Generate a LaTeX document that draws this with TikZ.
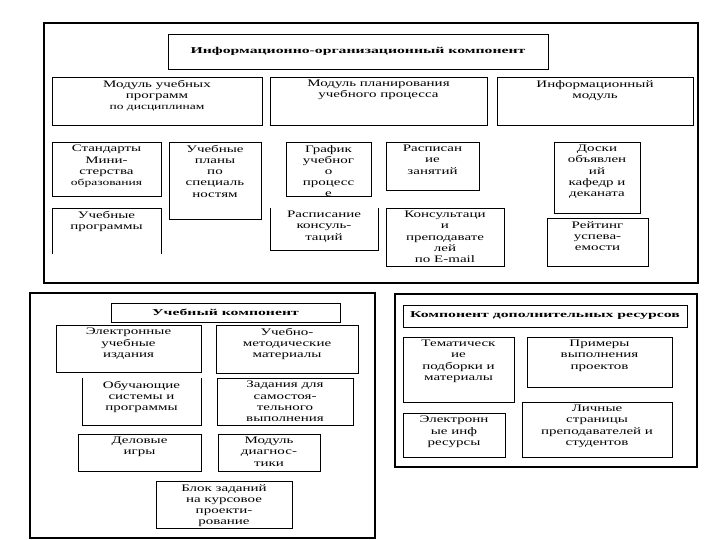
\documentclass[tikz,border=0pt]{standalone}
\usepackage{fontspec}
\setmainfont{Liberation Serif}
\newfontfamily\ttlfont[FakeStretch=1.75]{Liberation Serif}
\usetikzlibrary{positioning}

\begin{document}
\begin{tikzpicture}[x=1pt, y=-1pt, font=\fontsize{10}{11.2}\selectfont]
\tikzstyle{frame}=[draw, line width=1.3pt, anchor=north west, inner sep=0pt, outer sep=0pt]
\tikzstyle{blk}=[draw, line width=0.8pt, anchor=north west, inner sep=0pt, outer sep=0pt]
\tikzstyle{open}=[blk, draw=none]
\tikzstyle{lbl}=[anchor=north, align=center, inner sep=3pt, xscale=1.5]
\tikzstyle{ttl}=[blk, font=\ttlfont\fontsize{9}{10}\selectfont\bfseries]
\useasboundingbox (0,0) rectangle (720,540);
% frames
\node[frame, minimum width=654pt, minimum height=260pt] (infofr) at (44,23) {};
\node[frame, minimum width=345pt, minimum height=245pt] (uchfr) at (30,293) {};
\node[frame, minimum width=302pt, minimum height=173pt] (dopfr) at (395,294) {};
% information-organisational component
\node[ttl, minimum width=380pt, minimum height=35pt] (info) at (168,34) {Информационно-организационный компонент};
\node[blk, minimum width=210pt, minimum height=48pt, label={[lbl]north:{Модуль учебных\\программ\\{\fontsize{9}{10}\selectfont по дисциплинам}}}] (modprog) at (52,77) {};
\node[blk, minimum width=217pt, minimum height=48pt, label={[lbl]north:{Модуль планирования\\учебного процесса}}] (modplan) at (270,77) {};
\node[blk, minimum width=196pt, minimum height=48pt, label={[lbl]north:{Информационный\\модуль}}] (modinf) at (497,77) {};
\node[blk, minimum width=109pt, minimum height=54pt, label={[lbl]north:{Стандарты\\Мини-\\стерства\\{\fontsize{9}{10}\selectfont образования}}}] (stand) at (52,142) {};
\node[blk, minimum width=92pt, minimum height=77pt, label={[lbl]north:{Учебные\\планы\\по\\специаль\\ностям}}] (uplan) at (169,142) {};
\node[blk, minimum width=85pt, minimum height=54pt, label={[lbl]north:{График\\учебног\\о\\процесс\\е}}] (graf) at (286,142) {};
\node[blk, minimum width=93pt, minimum height=48pt, label={[lbl]north:{Расписан\\ие\\занятий}}] (raszan) at (386,142) {};
\node[blk, minimum width=86pt, minimum height=71pt, label={[lbl]north:{Доски\\объявлен\\ий\\кафедр и\\деканата}}] (doski) at (554,142) {};
\node[open, minimum width=109pt, minimum height=46pt, label={[lbl]north:{Учебные\\программы}}] (uprog) at (52,208) {};
\node[open, minimum width=108pt, minimum height=42pt, label={[lbl]north:{Расписание\\консуль-\\таций}}] (raskons) at (270,208) {};
\node[blk, minimum width=118pt, minimum height=58pt, label={[lbl]north:{Консультаци\\и\\преподавате\\лей\\по E-mail}}] (kons) at (386,208) {};
\node[blk, minimum width=101pt, minimum height=48pt, label={[lbl]north:{Рейтинг\\успева-\\емости}}] (reit) at (547,218) {};
\draw[line width=0.8pt] (uprog.south west) -- (uprog.north west) -- (uprog.north east) -- (uprog.south east);
\draw[line width=0.8pt] (raskons.north west) -- (raskons.south west) -- (raskons.south east) -- (raskons.north east);
% learning component
\node[ttl, minimum width=229pt, minimum height=19pt] (uch) at (111,303) {Учебный компонент};
\node[blk, minimum width=145pt, minimum height=47pt, label={[lbl]north:{Электронные\\учебные\\издания}}] (elizd) at (56,325) {};
\node[blk, minimum width=142pt, minimum height=48pt, label={[lbl]north:{Учебно-\\методические\\материалы}}] (umet) at (216,325) {};
\node[open, minimum width=119pt, minimum height=47pt, label={[lbl]north:{Обучающие\\системы и\\программы}}] (obuch) at (82,378) {};
\node[blk, minimum width=136pt, minimum height=47pt, label={[lbl]north:{Задания для\\самостоя-\\тельного\\выполнения}}] (zadan) at (217,378) {};
\node[blk, minimum width=123pt, minimum height=37pt, label={[lbl]north:{Деловые\\игры}}] (delov) at (78,434) {};
\node[blk, minimum width=102pt, minimum height=37pt, label={[lbl]north:{Модуль\\диагнос-\\тики}}] (diag) at (218,434) {};
\node[blk, minimum width=136pt, minimum height=47pt, label={[lbl]north:{Блок заданий\\на курсовое\\проекти-\\рование}}] (blok) at (156,481) {};
\draw[line width=0.8pt] (obuch.north west) -- (obuch.south west) -- (obuch.south east) -- (obuch.north east);
% additional resources
\node[ttl, minimum width=284pt, minimum height=22pt] (dop) at (403,305) {Компонент дополнительных ресурсов};
\node[blk, minimum width=111pt, minimum height=65pt, label={[lbl]north:{Тематическ\\ие\\подборки и\\материалы}}] (temat) at (403,337) {};
\node[blk, minimum width=145pt, minimum height=50pt, label={[lbl]north:{Примеры\\выполнения\\проектов}}] (primer) at (527,337) {};
\node[blk, minimum width=102pt, minimum height=44pt, label={[lbl]north:{Электронн\\ые инф\\ресурсы}}] (elres) at (403,413) {};
\node[blk, minimum width=150pt, minimum height=55pt, label={[lbl]north:{Личные\\страницы\\преподавателей и\\студентов}}] (lichn) at (522,402) {};
\end{tikzpicture}
\end{document}
